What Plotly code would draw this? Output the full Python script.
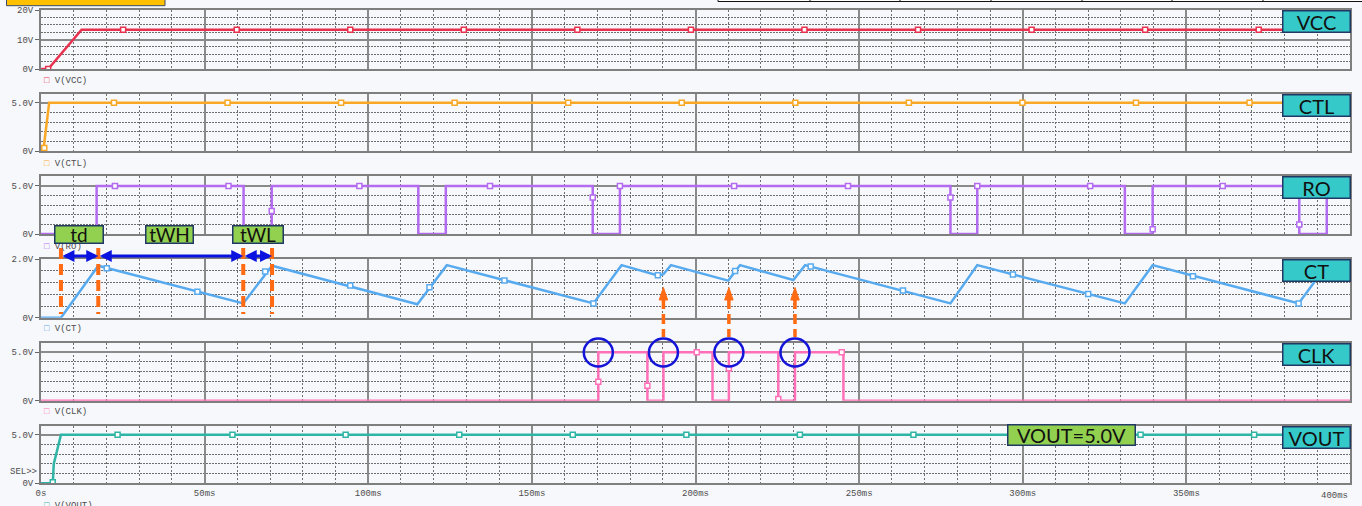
import plotly.graph_objects as go

W, H = 1362, 506
PLOT_L, PLOT_R = 41, 1350          # left / right edge of the plotting area (px)

BG = "#f7f8fc"
AX_LINE = "#7f7f7f"
GRID_MAJOR = "#8a8a8a"
GRID_MINOR = "#6e6e6e"
TICK_FONT = dict(family="Liberation Mono, DejaVu Sans Mono, monospace", size=9, color="#4d4d4d")
LABEL_FONT = "Lato, Open Sans, sans-serif"

# ---------------- waveforms: time [ms], level [V] ----------------
vcc_t = [0, 2.2, 12.4, 400]
vcc_v = [0, 0, 13.3, 13.3]
vcc_mark_t = [2.2, 25.1, 59.8, 94.5, 129.2, 163.9, 198.6, 233.3, 268.0, 302.7, 337.4, 372.1]
vcc_mark_v = [0, 13.3, 13.3, 13.3, 13.3, 13.3, 13.3, 13.3, 13.3, 13.3, 13.3, 13.3]

ctl_t = [0, 0.7, 2.5, 400]
ctl_v = [0, 0, 5.0, 5.0]
ctl_mark_t = [1.0, 22.3, 57.0, 91.7, 126.4, 161.1, 195.8, 230.5, 265.2, 299.9, 334.6, 369.3]
ctl_mark_v = [0.3, 5, 5, 5, 5, 5, 5, 5, 5, 5, 5, 5]

ro_t = [0, 17.0, 17.0, 61.9, 61.9, 70.5, 70.5, 115.3, 115.3, 123.7, 123.7, 168.6, 168.6,
        176.9, 176.9, 277.9, 277.9, 286.1, 286.1, 331.2, 331.2, 339.7, 339.7, 384.5, 384.5,
        392.9, 392.9, 400]
ro_v = [0, 0, 5, 5, 0, 0, 5, 5, 0, 0, 5, 5, 0,
        0, 5, 5, 0, 0, 5, 5, 0, 0, 5, 5, 0,
        0, 5, 5]
ro_mark_t = [22.6, 57.3, 70.5, 97.3, 137.2, 168.6, 176.9, 211.8, 246.6, 277.9, 286.1, 320.6, 339.7, 361.1, 384.5]
ro_mark_v = [5, 5, 2.4, 5, 5, 3.8, 5, 5, 5, 3.8, 5, 5, 0.5, 5, 1.0]

ct_t = [0, 6.1, 17.5, 61.8, 70.6, 115.0, 124.0, 168.8, 177.4, 188.5, 190.2, 192.5,
        210.0, 213.6, 229.9, 233.5, 277.9, 286.1, 331.2, 339.7, 384.3, 392.9, 400]
ct_v = [0, 0, 1.78, 0.49, 1.78, 0.46, 1.80, 0.49, 1.80, 1.45, 1.49, 1.80,
        1.27, 1.80, 1.29, 1.80, 0.49, 1.80, 0.49, 1.80, 0.49, 1.80, 1.59]
ct_mark_t = [20.1, 47.8, 68.5, 94.5, 118.7, 141.6, 168.8, 188.5, 212.1, 235.2, 263.4, 297.0, 320.0, 352.0, 384.3]
ct_mark_v = [1.69, 0.89, 1.58, 1.10, 1.04, 1.27, 0.49, 1.45, 1.60, 1.75, 0.93, 1.48, 0.81, 1.42, 0.49]

clk_t = [0, 170.3, 170.3, 185.3, 185.3, 190.2, 190.2, 205.2, 205.2, 210.2, 210.2,
         225.3, 225.3, 230.4, 230.4, 245.2, 245.2, 400]
clk_v = [0, 0, 5, 5, 0, 0, 5, 5, 0, 0, 5,
         5, 0, 0, 5, 5, 0, 0]
clk_mark_t = [170.3, 185.3, 200.4, 210.2, 225.3, 244.7]
clk_mark_v = [1.96, 1.55, 5, 3.35, 0.18, 5]

vout_t = [0, 3.6, 3.9, 6.1, 400]
vout_v = [0, 0, 2.0, 5.0, 5.0]
vout_mark_t = [3.6, 23.4, 58.5, 93.1, 127.8, 162.5, 197.2, 231.9, 266.6, 301.3, 336.0, 370.7]
vout_mark_v = [0.1, 5, 5, 5, 5, 5, 5, 5, 5, 5, 5, 5]

# x-axis ticks
x_tick_vals = [0, 50, 100, 150, 200, 250, 300, 350]
x_tick_text = ["0s", "50ms", "100ms", "150ms", "200ms", "250ms", "300ms", "350ms"]
x_minor_vals = [t for t in range(10, 400, 10) if t % 50]

# panel layout (pixel rows) and vertical scales
panels = [
    dict(name="VCC", color="#e8304f", top=10, bot=69, rng=[0, 20],
         ticks=[0, 10, 20], text=["0V", "10V", "20V"], minor=[2.5, 5, 7.5, 12.5, 15, 17.5],
         t=vcc_t, v=vcc_v, mt=vcc_mark_t, mv=vcc_mark_v, legend_y=81),
    dict(name="CTL", color="#f9a825", top=94, bot=151, rng=[0, 5.9],
         ticks=[0, 5], text=["0V", "5.0V"], minor=[1, 2, 3, 4],
         t=ctl_t, v=ctl_v, mt=ctl_mark_t, mv=ctl_mark_v, legend_y=164),
    dict(name="RO", color="#b36bf0", top=176, bot=234, rng=[0, 6.04],
         ticks=[0, 5], text=["0V", "5.0V"], minor=[1, 2, 3, 4],
         t=ro_t, v=ro_v, mt=ro_mark_t, mv=ro_mark_v, legend_y=247),
    dict(name="CT", color="#58aaee", top=259.3, bot=317.7, rng=[0, 2.0],
         ticks=[0, 2], text=["0V", "2.0V"], minor=[0.4, 0.8, 1.2, 1.6],
         t=ct_t, v=ct_v, mt=ct_mark_t, mv=ct_mark_v, legend_y=329),
    dict(name="CLK", color="#ff70b8", top=343, bot=400.7, rng=[0, 5.96],
         ticks=[0, 5], text=["0V", "5.0V"], minor=[1, 2, 3, 4],
         t=clk_t, v=clk_v, mt=clk_mark_t, mv=clk_mark_v, legend_y=411.5),
    dict(name="VOUT", color="#2eb5a5", top=425.7, bot=483.3, rng=[0, 5.93],
         ticks=[0, 5], text=["0V", "5.0V"], minor=[1, 2, 3, 4],
         t=vout_t, v=vout_v, mt=vout_mark_t, mv=vout_mark_v, legend_y=506),
]


def px_x(x):
    return x / W


def px_y(y):
    return 1 - y / H


def tag(text, x0, x1, y0, y1, fill, size):
    """Boxed label drawn as an annotation so it sits on top of other text."""
    return dict(xref="paper", yref="paper", x=px_x((x0 + x1) / 2), y=px_y((y0 + y1) / 2),
                xanchor="center", yanchor="middle", showarrow=False, text=text,
                width=x1 - x0 - 3, height=y1 - y0 - 3, borderpad=0,
                bgcolor=fill, bordercolor="#1f3864", borderwidth=1.5,
                font=dict(family=LABEL_FONT, size=size, color="#111111"))


fig = go.Figure()
layout = {}
shapes = []
annotations = []
top_annotations = []

for i, p in enumerate(panels):
    k = i + 1
    xs = "x" if k == 1 else f"x{k}"
    ys = "y" if k == 1 else f"y{k}"
    fig.add_trace(go.Scatter(x=p["t"], y=p["v"], mode="lines", xaxis=xs, yaxis=ys,
                             line=dict(color=p["color"], width=2.5),
                             hoverinfo="skip", showlegend=False))
    fig.add_trace(go.Scatter(x=p["mt"], y=p["mv"], mode="markers", xaxis=xs, yaxis=ys,
                             marker=dict(symbol="square", size=5, color="#ffffff",
                                         line=dict(color=p["color"], width=1.5)),
                             hoverinfo="skip", showlegend=False))

    layout["xaxis" if k == 1 else f"xaxis{k}"] = dict(
        domain=[px_x(PLOT_L), px_x(PLOT_R)], anchor=ys, range=[0, 400], automargin=False,
        showline=True, mirror=True, linecolor=AX_LINE, linewidth=2,
        tickmode="array", tickvals=x_tick_vals, ticktext=x_tick_text,
        showticklabels=(k == len(panels)), ticks="", tickfont=TICK_FONT,
        showgrid=True, gridcolor=GRID_MAJOR, gridwidth=1.5, zeroline=False,
        minor=dict(tickmode="array", tickvals=x_minor_vals, showgrid=True,
                   gridcolor=GRID_MINOR, griddash="2px,2px", gridwidth=1, ticks=""),
        fixedrange=True,
    )
    layout["yaxis" if k == 1 else f"yaxis{k}"] = dict(
        domain=[px_y(p["bot"]), px_y(p["top"])], anchor=xs, range=p["rng"], automargin=False,
        showline=True, mirror=True, linecolor=AX_LINE, linewidth=2,
        tickmode="array", tickvals=p["ticks"], ticktext=p["text"],
        ticks="outside", ticklen=4, tickwidth=1, tickcolor="#666666", tickfont=TICK_FONT,
        showgrid=True, gridcolor=GRID_MAJOR, gridwidth=1.5, zeroline=False,
        minor=dict(tickmode="array", tickvals=p["minor"], showgrid=True,
                   gridcolor=GRID_MINOR, griddash="2px,1px", gridwidth=1, ticks=""),
        fixedrange=True,
    )

    # trace legend under each panel
    annotations.append(dict(
        xref="paper", yref="paper", x=px_x(42), y=px_y(p["legend_y"]),
        xanchor="left", yanchor="middle", showarrow=False,
        text=f'<span style="color:{p["color"]}">□</span> V({p["name"]})',
        font=TICK_FONT))

    # signal name tag at the right
    top_annotations.append(tag(p["name"], 1282, 1351, p["top"], p["top"] + 23, "#36c9c9", 20))

# last x tick label kept inside the frame
annotations.append(dict(xref="x6", yref="paper", x=400, y=px_y(496), xanchor="right",
                        yanchor="middle", showarrow=False, text="400ms", font=TICK_FONT))
annotations.append(dict(xref="paper", yref="paper", x=px_x(39), y=px_y(471.7), xanchor="right",
                        yanchor="middle", showarrow=False, text="SEL&gt;&gt;", font=TICK_FONT))

# ---------------- timing annotations on RO / CT ----------------
timing_marks = [6.1, 17.5, 61.8, 70.6]          # td start, td end / tWH start, tWL start, tWL end
for tm in timing_marks:
    shapes.append(dict(type="line", xref="x4", yref="paper", layer="above",
                       x0=tm, x1=tm, y0=px_y(248), y1=px_y(314),
                       line=dict(color="#ff6a13", width=4, dash="11px,5px")))

spans = [(6.1, 17.5), (17.5, 61.8), (61.8, 70.6)]
for t0, t1 in spans:
    annotations.append(dict(xref="x4", yref="paper", x=t1, y=px_y(256),
                            axref="x4", ayref="pixel", ax=t0, ay=0, text="",
                            showarrow=True, arrowside="end+start",
                            arrowhead=2, startarrowhead=2, arrowsize=0.8, startarrowsize=0.8,
                            arrowwidth=3, arrowcolor="#0a12e0"))

for txt, xa, xb in [("td", 54, 104), ("tWH", 145, 194), ("tWL", 232, 284)]:
    top_annotations.append(tag(txt, xa, xb, 225, 244, "#92d050", 19))

# ---------------- CLK edges feeding back into CT ----------------
clk_rise = [170.3, 190.2, 210.2, 230.4]
for tr in clk_rise:
    shapes.append(dict(type="circle", xref="x5", yref="paper", layer="above",
                       xsizemode="pixel", ysizemode="pixel", xanchor=tr, yanchor=px_y(352.5),
                       x0=-14.5, x1=14.5, y0=-14, y1=14,
                       line=dict(color="#1414d8", width=2.5)))

for tr in clk_rise[1:]:
    shapes.append(dict(type="line", xref="x5", yref="paper", layer="above",
                       x0=tr, x1=tr, y0=px_y(299), y1=px_y(337),
                       line=dict(color="#ff6a13", width=3.5, dash="10px,5px")))
    shapes.append(dict(type="path", xref="x5", yref="paper", layer="above",
                       path=(f"M {tr - 1.3} {px_y(300)} L {tr} {px_y(287.5)} "
                             f"L {tr + 1.3} {px_y(300)} Z"),
                       fillcolor="#ff6a13", line=dict(color="#ff6a13", width=1)))

# output level tag
top_annotations.append(tag("VOUT=5.0V", 1007, 1136, 424, 446, "#92d050", 20))

# window decorations along the top edge
shapes.append(dict(type="rect", xref="paper", yref="paper", layer="above",
                   x0=px_x(6.5), x1=px_x(165), y0=px_y(5.7), y1=px_y(-3),
                   fillcolor="#ffc000", line=dict(color="#3a4a6b", width=1)))
shapes.append(dict(type="rect", xref="paper", yref="paper", layer="above",
                   x0=px_x(718), x1=px_x(1366), y0=px_y(1.5), y1=px_y(-4),
                   fillcolor="#ffffff", line=dict(color="#111111", width=1)))
for xc in [810, 900, 991, 1082, 1172, 1263]:
    shapes.append(dict(type="line", xref="paper", yref="paper", layer="above",
                       x0=px_x(xc), x1=px_x(xc), y0=px_y(1.5), y1=px_y(-4),
                       line=dict(color="#111111", width=1)))

fig.update_layout(
    width=W, height=H, margin=dict(l=0, r=0, t=0, b=0, autoexpand=False),
    paper_bgcolor=BG, plot_bgcolor=BG,
    showlegend=False, shapes=shapes, annotations=annotations + top_annotations,
    **layout,
)

fig.write_html("out.html", config={"displayModeBar": False})
